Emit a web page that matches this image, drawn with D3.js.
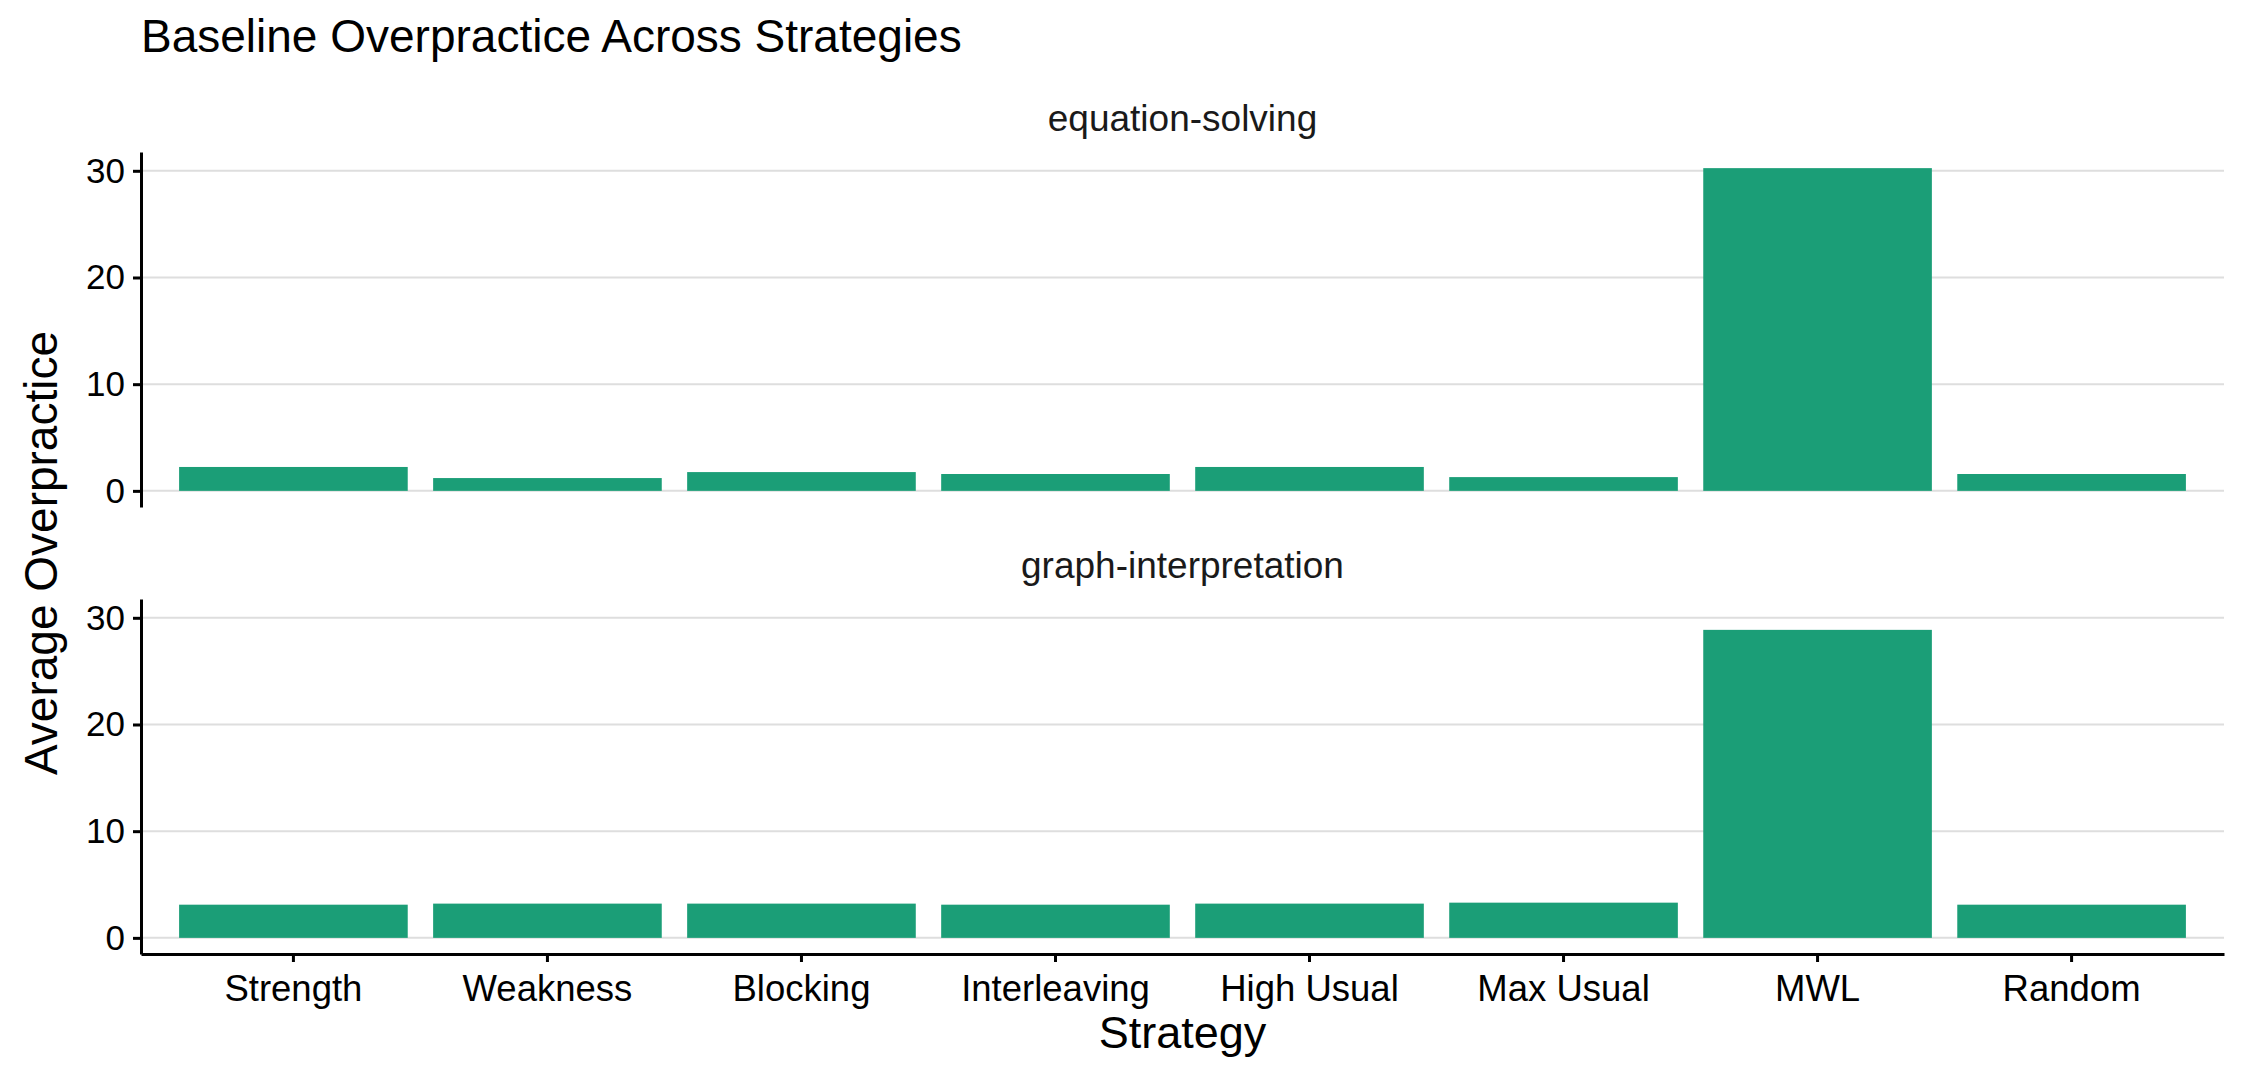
<!DOCTYPE html>
<html>
<head>
<meta charset="utf-8">
<script src="https://cdn.jsdelivr.net/npm/d3@7"></script>
<style>
  body { margin: 0; background: #fff; }
  text { font-family: "Liberation Sans", Arial, sans-serif; }
</style>
</head>
<body>
<script>
// data
var strategies = ["Strength", "Weakness", "Blocking", "Interleaving", "High Usual", "Max Usual", "MWL", "Random"];
var facets = ["equation-solving", "graph-interpretation"];
var equationSolving = [2.24, 1.20, 1.76, 1.58, 2.24, 1.29, 30.25, 1.58];
var graphInterpretation = [3.11, 3.21, 3.21, 3.11, 3.21, 3.30, 28.87, 3.11];
var yTicks = [0, 10, 20, 30];

var facetValues = [equationSolving, graphInterpretation];

// set the dimensions and margins of the graph
var W = 2250, H = 1080;
var margin = {top: 152, right: 26, left: 141},
    width = W - margin.left - margin.right,
    panelH = 355,
    panelGap = 92;

var barColor = "#1b9e77";

var svg = d3.select("body")
    .append("svg")
    .attr("width", W)
    .attr("height", H);

// x scale, ggplot style discrete expansion
var x = d3.scaleBand()
    .domain(strategies)
    .range([margin.left, margin.left + width])
    .paddingInner(0.1)
    .paddingOuter(0.15);

// shared y domain with 5% expansion
var allVals = equationSolving.concat(graphInterpretation);
var yMax = d3.max(allVals);
var yDomain = [-0.05 * yMax, yMax * 1.05];

// title
svg.append("text")
    .attr("x", margin.left)
    .attr("y", 52)
    .style("font-size", "46px")
    .style("fill", "#000")
    .text("Baseline Overpractice Across Strategies");

facets.forEach(function(name, i) {
    var top = margin.top + i * (panelH + panelGap);
    var y = d3.scaleLinear().domain(yDomain).range([top + panelH, top]);
    var vals = facetValues[i];
    var g = svg.append("g");

    // strip label
    g.append("text")
        .attr("x", margin.left + width / 2)
        .attr("y", top - 21)
        .attr("text-anchor", "middle")
        .style("font-size", "37px")
        .style("fill", "#1a1a1a")
        .text(name);

    // gridlines
    g.append("g")
        .selectAll("line")
        .data(yTicks)
        .enter()
        .append("line")
        .attr("x1", margin.left)
        .attr("x2", margin.left + width)
        .attr("y1", function(d) { return y(d); })
        .attr("y2", function(d) { return y(d); })
        .attr("stroke", "#dedede")
        .attr("stroke-width", 2);

    // bars
    g.append("g")
        .selectAll("rect")
        .data(strategies)
        .enter()
        .append("rect")
        .attr("x", function(d) { return x(d); })
        .attr("width", x.bandwidth())
        .attr("y", function(d, j) { return y(vals[j]); })
        .attr("height", function(d, j) { return y(0) - y(vals[j]); })
        .attr("fill", barColor);

    // y axis
    var yAxis = g.append("g")
        .attr("transform", "translate(" + margin.left + ",0)")
        .call(d3.axisLeft(y).tickValues(yTicks).tickSize(8).tickSizeOuter(0).tickPadding(8));
    yAxis.select(".domain").attr("stroke", "#000").attr("stroke-width", 3);
    yAxis.selectAll(".tick line").attr("stroke", "#000").attr("stroke-width", 3);
    yAxis.selectAll(".tick text")
        .style("font-size", "35px")
        .style("font-family", "Liberation Sans, Arial, sans-serif")
        .attr("fill", "#000");

    // x axis only on the bottom panel
    if (i === facets.length - 1) {
        var xAxis = g.append("g")
            .attr("transform", "translate(0," + (top + panelH) + ")")
            .call(d3.axisBottom(x).tickSize(8).tickSizeOuter(0).tickPadding(13));
        xAxis.select(".domain").attr("stroke", "#000").attr("stroke-width", 3);
        xAxis.selectAll(".tick line").attr("stroke", "#000").attr("stroke-width", 3);
        xAxis.selectAll(".tick text")
            .style("font-size", "36.5px")
            .style("font-family", "Liberation Sans, Arial, sans-serif")
            .attr("fill", "#000");
    }
});

// text label for the x axis
svg.append("text")
    .attr("x", margin.left + width / 2)
    .attr("y", 1048)
    .attr("text-anchor", "middle")
    .style("font-size", "45px")
    .style("fill", "#000")
    .text("Strategy");

// text label for y axis
svg.append("text")
    .attr("transform", "translate(57," + (margin.top + panelH + panelGap / 2) + ") rotate(-90)")
    .attr("text-anchor", "middle")
    .style("font-size", "46px")
    .style("fill", "#000")
    .text("Average Overpractice");
</script>
</body>
</html>
